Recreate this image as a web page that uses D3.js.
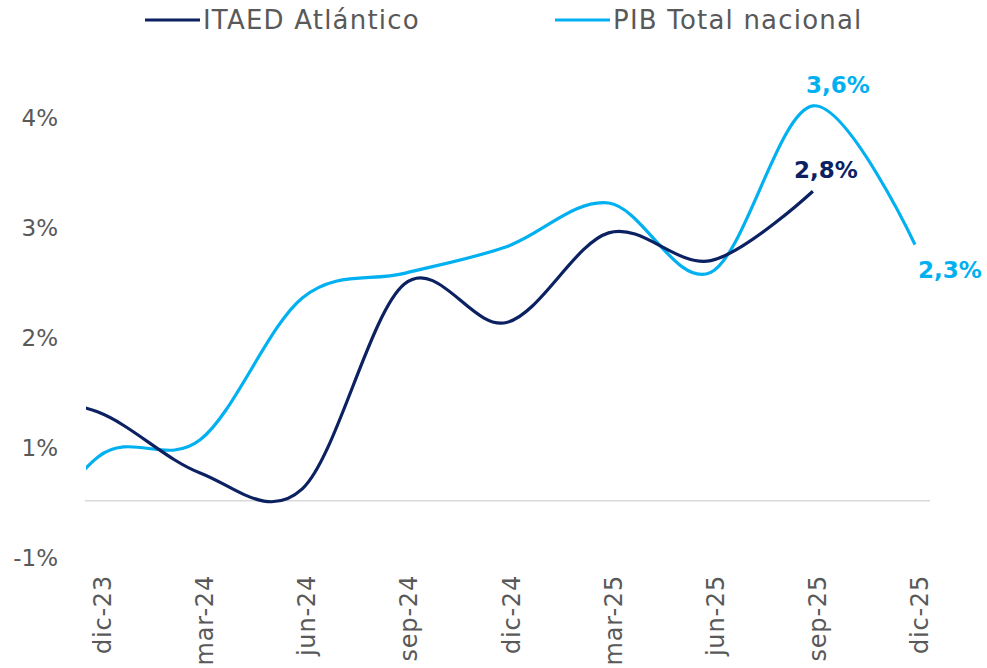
<!DOCTYPE html>
<html>
<head>
<meta charset="utf-8">
<script src="https://cdn.jsdelivr.net/npm/d3@7"></script>
<style>
  body { margin: 0; background: #fff; }
  text { font-family: "DejaVu Sans", sans-serif; }
</style>
</head>
<body>
<svg width="987" height="668"></svg>
<script>
// data (sep-23 sits just left of the plot area, its segment gets clipped)
const quarters = ["sep-23", "dic-23", "mar-24", "jun-24", "sep-24", "dic-24", "mar-25", "jun-25", "sep-25", "dic-25"]
const shownQuarters = ["dic-23", "mar-24", "jun-24", "sep-24", "dic-24", "mar-25", "jun-25", "sep-25", "dic-25"]
const itaed = [0.9, 0.73, 0.16, 0.01, 1.93, 1.57, 2.41, 2.15, 2.8]
const pib = [-1.0, 0.31, 0.47, 1.8, 2.03, 2.28, 2.69, 2.04, 3.6, 2.3]
const tickVals = [4, 3, 2, 1, 0]
const tickText = ["4%", "3%", "2%", "1%", "-1%"]
const itaedLabels = [8]
const pibLabels = [8, 9]

const navy = "#0b2161"
const sky = "#00b0f0"
const gray = "#595959"

const svg = d3.select("svg")
const width = +svg.attr("width")
const height = +svg.attr("height")

const plotLeft = 86
const plotRight = 930

const x = d3.scalePoint().domain(quarters).range([-4.1, 915])
const y = d3.scaleLinear().domain([0, 4]).range([490, 63.2])
const yLab = d3.scaleLinear().domain([0, 4]).range([558, 118])
const baseVal = -0.1

svg.append("defs").append("clipPath")
  .attr("id", "plot")
  .append("rect")
  .attr("x", plotLeft).attr("y", 0)
  .attr("width", plotRight - plotLeft).attr("height", height)

// y tick labels
const yAxis = svg.append("g")
  .attr("transform", "translate(66,0)")
  .call(d3.axisLeft(yLab).tickValues(tickVals).tickSize(0).tickPadding(8)
    .tickFormat((d, i) => tickText[i]))
yAxis.select(".domain").remove()
yAxis.selectAll("text")
  .attr("font-family", "DejaVu Sans, sans-serif")
  .attr("font-size", 23)
  .attr("fill", gray)

// baseline
svg.append("line")
  .attr("x1", plotLeft - 1).attr("x2", plotRight)
  .attr("y1", y(baseVal)).attr("y2", y(baseVal))
  .attr("stroke", "#d9d9d9")
  .attr("stroke-width", 1.5)

// x labels, rotated
svg.append("g").selectAll("text")
  .data(shownQuarters)
  .join("text")
  .attr("transform", d => `translate(${x(d) + 13},575) rotate(-90)`)
  .attr("text-anchor", "end")
  .attr("font-size", 24)
  .attr("letter-spacing", 0.8)
  .attr("fill", gray)
  .text(d => d)

const line = d3.line()
  .x((d, i) => x(quarters[i]))
  .y(d => y(d))
  .curve(d3.curveCatmullRom.alpha(0))

const lines = svg.append("g").attr("clip-path", "url(#plot)")

lines.append("path")
  .datum(pib)
  .attr("d", line)
  .attr("fill", "none")
  .attr("stroke", sky)
  .attr("stroke-width", 3.2)

lines.append("path")
  .datum(itaed)
  .attr("d", line)
  .attr("fill", "none")
  .attr("stroke", navy)
  .attr("stroke-width", 3.2)

const fmt = v => v.toFixed(1).replace(".", ",") + "%"

// data labels
svg.append("g").selectAll("text")
  .data(itaedLabels)
  .join("text")
  .attr("x", i => x(quarters[i]) + 13)
  .attr("y", i => y(itaed[i]) - 13)
  .attr("text-anchor", "middle")
  .attr("font-size", 23)
  .attr("font-weight", "bold")
  .attr("fill", navy)
  .text(i => fmt(itaed[i]))

svg.append("g").selectAll("text")
  .data(pibLabels)
  .join("text")
  .attr("x", i => x(quarters[i]) + (i == 9 ? 35 : 25))
  .attr("y", i => y(pib[i]) + (i == 9 ? 33 : -13))
  .attr("text-anchor", "middle")
  .attr("font-size", 23)
  .attr("font-weight", "bold")
  .attr("fill", sky)
  .text(i => fmt(pib[i]))

// legend
const legend = [
  { name: "ITAED Atlántico", color: navy, x: 145 },
  { name: "PIB Total nacional", color: sky, x: 555 }
]
const lg = svg.append("g").selectAll("g")
  .data(legend)
  .join("g")
  .attr("transform", d => `translate(${d.x},20)`)
lg.append("line")
  .attr("x1", 0).attr("x2", 55)
  .attr("stroke", d => d.color)
  .attr("stroke-width", 3.2)
lg.append("text")
  .attr("x", 58)
  .attr("y", 9)
  .attr("font-size", 26)
  .attr("letter-spacing", 1.2)
  .attr("fill", gray)
  .text(d => d.name)
</script>
</body>
</html>
